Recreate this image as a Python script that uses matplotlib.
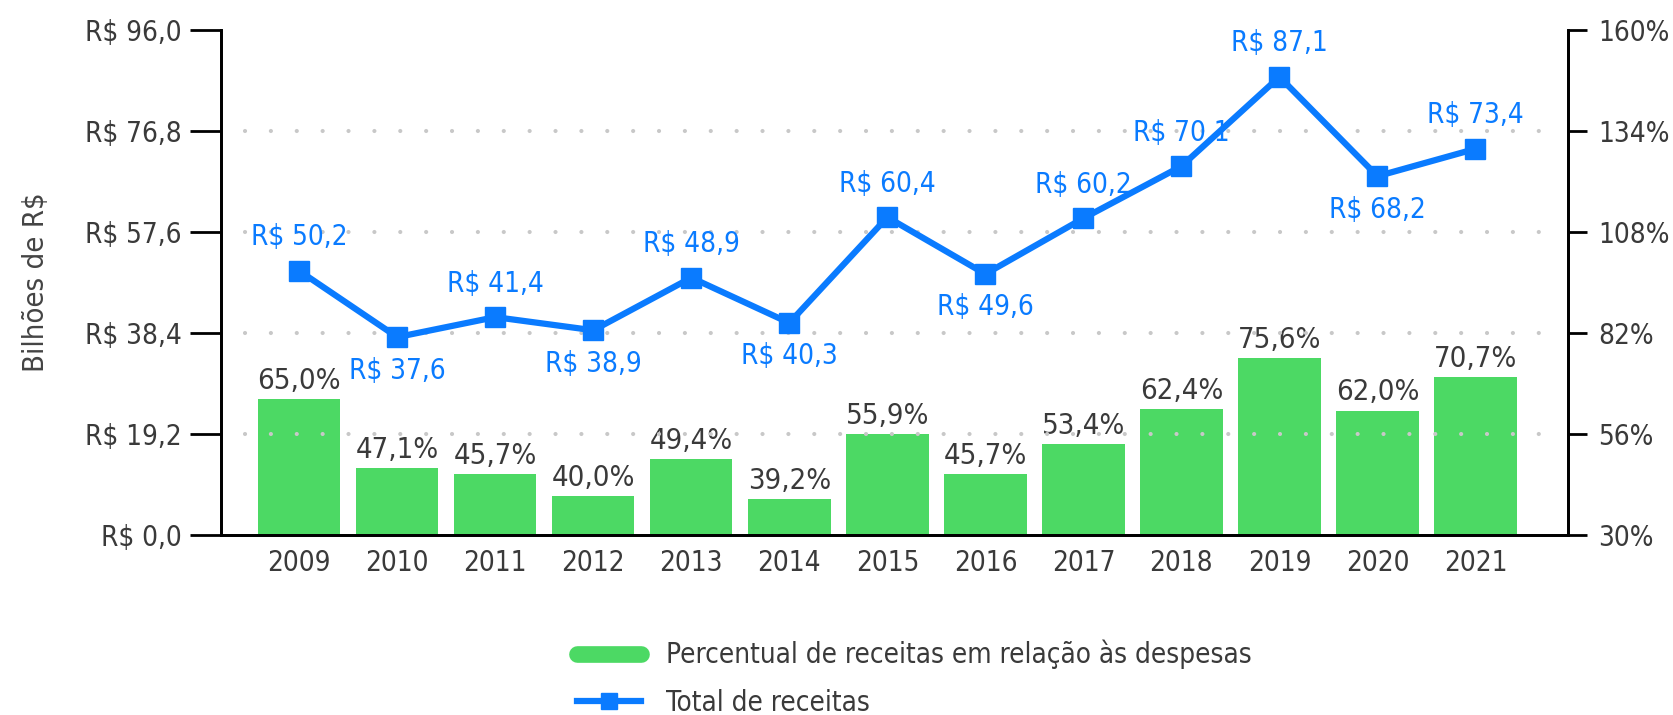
import matplotlib
matplotlib.use("Agg")
import matplotlib.pyplot as plt
from matplotlib.lines import Line2D

plt.rcParams['font.family'] = ['DejaVu Sans']
plt.rcParams['font.stretch'] = 'condensed'

anos = ['2009', '2010', '2011', '2012', '2013', '2014', '2015',
        '2016', '2017', '2018', '2019', '2020', '2021']
receitas = [50.2, 37.6, 41.4, 38.9, 48.9, 40.3, 60.4, 49.6, 60.2, 70.1, 87.1, 68.2, 73.4]
percentual = [65.0, 47.1, 45.7, 40.0, 49.4, 39.2, 55.9, 45.7, 53.4, 62.4, 75.6, 62.0, 70.7]
# label acima (True) ou abaixo (False) do ponto
acima = [True, False, True, False, True, False, True, False, True, True, True, False, True]

ticks_esq = [0.0, 19.2, 38.4, 57.6, 76.8, 96.0]
ticks_dir = [30, 56, 82, 108, 134, 160]

AZUL = '#0a7bff'
VERDE = '#4cd964'
TEXTO = '#3a3a3a'


def br(v):
    return f'{v:.1f}'.replace('.', ',')


def main():
    fig = plt.figure(figsize=(16.73, 7.15), dpi=100)
    ax = fig.add_axes([0.132, 0.252, 0.805, 0.706])
    ax2 = ax.twinx()
    x = list(range(len(anos)))

    # barras no eixo da direita, linha no da esquerda
    ax.set_zorder(ax2.get_zorder() + 1)
    ax.patch.set_visible(False)

    ax2.bar(x, [p - 30 for p in percentual], bottom=30, width=0.84, color=VERDE, zorder=2)
    for xi, p in zip(x, percentual):
        ax2.annotate(br(p) + '%', (xi, p), xytext=(0, 3), textcoords='offset points',
                     ha='center', va='bottom', fontsize=21, color=TEXTO)

    for t in ticks_esq[1:-1]:
        ax.axhline(t, xmin=0.018, xmax=0.985, color='#c8c8c8', lw=3,
                   ls=(0, (0.01, 6.2)), dash_capstyle='round', zorder=1)

    ax.plot(x, receitas, color=AZUL, lw=4.5, marker='s', markersize=14, zorder=3)
    for xi, v, up in zip(x, receitas, acima):
        ax.annotate('R$ ' + br(v), (xi, v), xytext=(0, 14 if up else -14),
                    textcoords='offset points', ha='center',
                    va='bottom' if up else 'top', fontsize=20, color=AZUL)

    ax.set_xlim(-0.8, 12.94)
    ax.set_ylim(0, 96)
    ax2.set_ylim(30, 160)
    ax.set_yticks(ticks_esq)
    ax.set_yticklabels(['R$ ' + br(t) for t in ticks_esq])
    ax2.set_yticks(ticks_dir)
    ax2.set_yticklabels([f'{t}%' for t in ticks_dir])
    ax.set_xticks(x)
    ax.set_xticklabels(anos)

    for a in (ax, ax2):
        a.spines['top'].set_visible(False)
        for s in ('left', 'right', 'bottom'):
            a.spines[s].set_linewidth(2)
    ax.tick_params(axis='y', length=22, width=2, pad=6, labelsize=20, labelcolor=TEXTO)
    ax2.tick_params(axis='y', length=14, width=2, pad=8, labelsize=20, labelcolor=TEXTO)
    ax.tick_params(axis='x', length=0, pad=10, labelsize=20, labelcolor=TEXTO)
    ax.set_ylabel('Bilhões de R$', fontsize=21, color='#444444', labelpad=25)

    handles = [
        Line2D([], [], color=VERDE, lw=12, solid_capstyle='round'),
        Line2D([], [], color=AZUL, lw=4.5, marker='s', markersize=11),
    ]
    fig.legend(handles, ['Percentual de receitas em relação às despesas', 'Total de receitas'],
               loc='upper left', bbox_to_anchor=(0.33, 0.14), frameon=False,
               fontsize=20, handlelength=2.3, handletextpad=0.9, labelspacing=0.7,
               labelcolor=TEXTO)

    fig.savefig('out.png', dpi=100)


if __name__ == "__main__":
    main()
